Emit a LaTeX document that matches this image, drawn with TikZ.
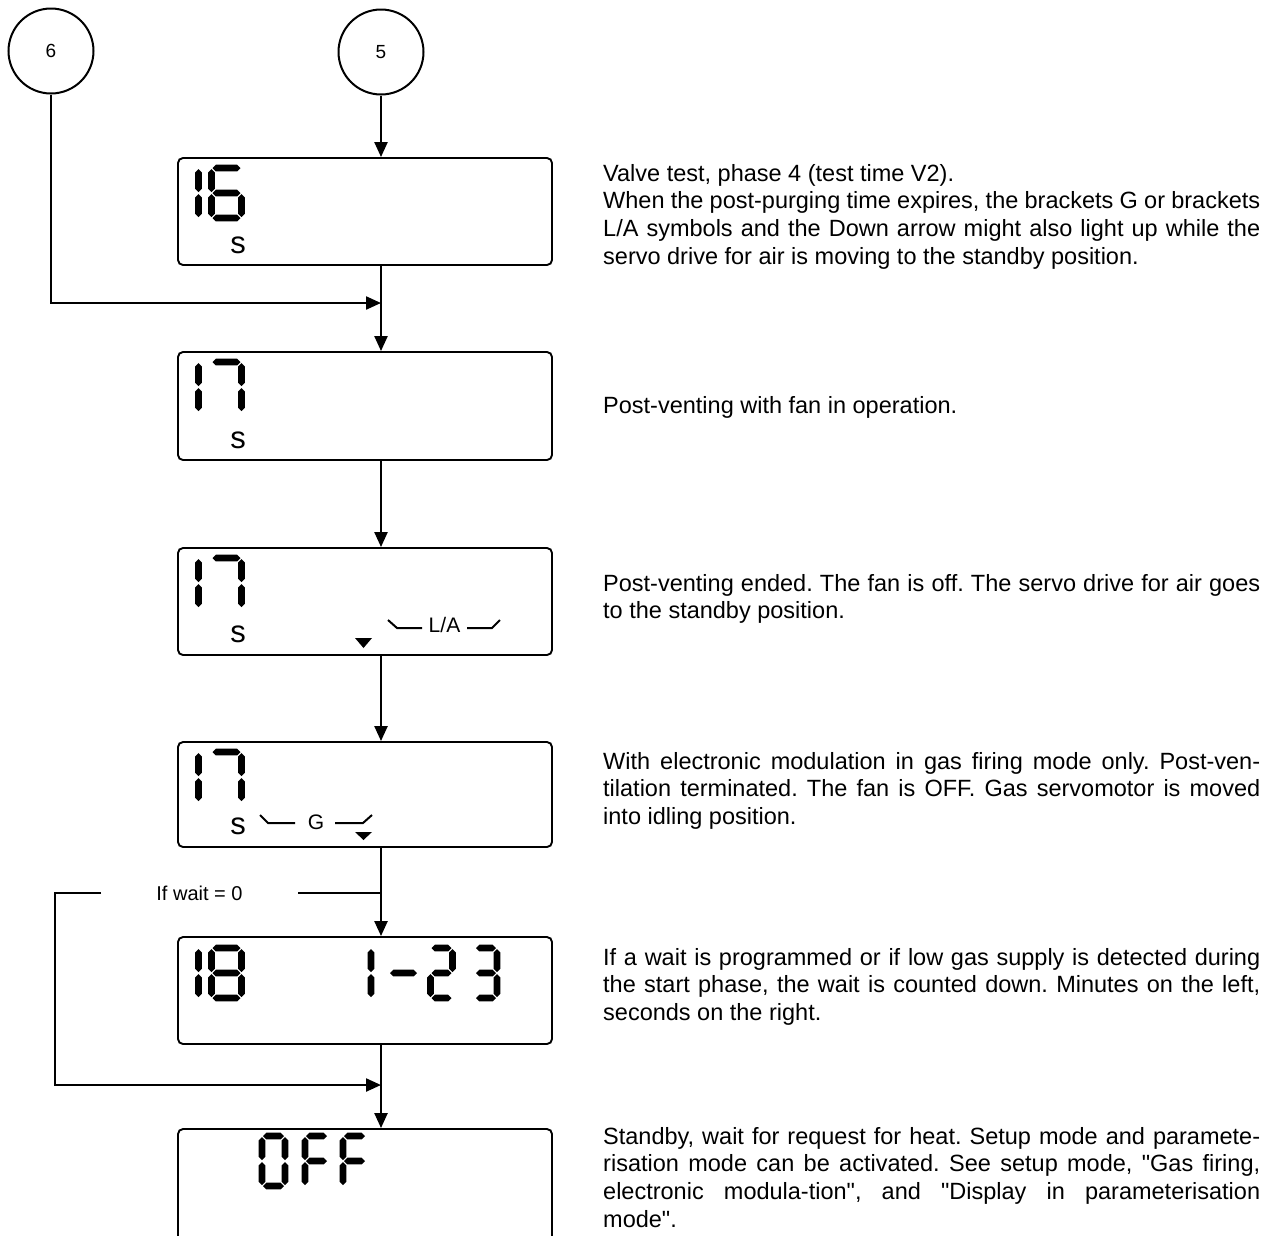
\documentclass[tikz,border=0pt]{standalone}
\usepackage{fontspec}
\setmainfont{Liberation Sans}[Ligatures=TeXOff]
\usetikzlibrary{arrows.meta,calc}
\frenchspacing
\newcommand\hsg[3]{\fill (#1,#3) -- (#1+3.4,#3-3.4) -- (#2-3.4,#3-3.4) -- (#2,#3) -- (#2-3.4,#3+3.4) -- (#1+3.4,#3+3.4) -- cycle;}
\newcommand\vsg[3]{\fill (#1,#2) -- (#1+3.4,#2+3.4) -- (#1+3.4,#3-3.4) -- (#1,#3) -- (#1-3.4,#3-3.4) -- (#1-3.4,#2+3.4) -- cycle;}
\def\dgh{50}
\newcommand\sgA{\hsg{1}{\dgw-1}{0}}
\newcommand\sgB{\vsg{\dgw}{1}{\dgh/2-1}}
\newcommand\sgC{\vsg{\dgw}{\dgh/2+1}{\dgh-1}}
\newcommand\sgD{\hsg{1}{\dgw-1}{\dgh}}
\newcommand\sgE{\vsg{0}{\dgh/2+1}{\dgh-1}}
\newcommand\sgF{\vsg{0}{1}{\dgh/2-1}}
\newcommand\sgG{\hsg{1}{\dgw-1}{\dgh/2}}
\newcommand\dig[4]{\begin{scope}[shift={(#1,#2)}]\def\dgw{#3}#4\end{scope}}
\newcommand\dgone[2]{\begin{scope}[shift={(#1,#2)}]\vsg{0}{1}{\dgh/2-1}\vsg{0}{\dgh/2+1}{\dgh-1}\end{scope}}
\begin{document}
\begin{tikzpicture}[x=1pt,y=-1pt,
  lcd/.style={draw, line width=1.9pt, rounded corners=5pt, minimum width=374pt, inner sep=0pt},
  conn/.style={line width=2.3pt},
  arr/.style={line width=2.3pt, -{Triangle[length=15pt,width=13pt]}},
  bubble/.style={circle, draw, line width=2pt, minimum size=85pt, inner sep=0pt, font=\fontsize{19}{20}\selectfont},
  desc/.style={anchor=base west, text width=657pt, align=justify, inner sep=0pt,
    font=\fontsize{23.5}{27.7}\selectfont},
  sym/.style={inner sep=0pt, font=\fontsize{21}{22}\selectfont},
  ess/.style={inner sep=0pt, font=\fontsize{31}{31}\selectfont},
  brk/.style={line width=2pt}]
\clip (0,0) rectangle (1276,1235);
\fill[white] (0,0) rectangle (1276,1235);

% connector circles
\node[bubble] (c6) at (51,51) {6};
\node[bubble] (c5) at (381,52) {5};

% display boxes
\node[lcd, minimum height=107pt] (b1) at (365,211.5) {};
\node[lcd, minimum height=108pt] (b2) at (365,406) {};
\node[lcd, minimum height=107pt] (b3) at (365,601.5) {};
\node[lcd, minimum height=105pt] (b4) at (365,794.5) {};
\node[lcd, minimum height=107pt] (b5) at (365,990.5) {};
\node[lcd, minimum height=130pt] (b6) at (365,1194) {};

% junction coordinates
\coordinate (j1) at (381,303);
\coordinate (j2) at (381,893);
\coordinate (j3) at (381,1085);

% connectors
\draw[arr] (c5.south) -- (c5.south |- b1.north);
\draw[arr] (b1.south -| c5) -- (b2.north -| c5);
\draw[arr] (c6.south) |- (j1);
\draw[arr] (b2.south -| c5) -- (b3.north -| c5);
\draw[arr] (b3.south -| c5) -- (b4.north -| c5);
\draw[arr] (b4.south -| c5) -- (b5.north -| c5);
\draw[arr] (b5.south -| c5) -- (b6.north -| c5);
\node[inner ysep=0pt, inner xsep=55pt, font=\fontsize{20}{22}\selectfont] (wait) at (199.5,893) {If wait = 0};
\draw[conn] (j2) -- (wait.east);
\draw[arr] (wait.west) -- ++(-46,0) |- (j3);

% box 1: 16 s
\dgone{198.5}{168}
\dig{211.5}{168}{30}{\sgA\sgC\sgD\sgE\sgF\sgG}
\node[ess] (s1) at (238,245) {s};

% box 2: 17 s
\dgone{198.5}{362}
\dig{211.5}{362}{30}{\sgA\sgB\sgC}
\node[ess] (s2) at (238,440) {s};

% box 3: 17 s, down arrow, L/A
\dgone{198.5}{558}
\dig{211.5}{558}{30}{\sgA\sgB\sgC}
\node[ess] (s3) at (238,634) {s};
\fill (355,638) -- (372,638) -- (363.5,648) -- cycle;
\node[sym] (la) at (444.5,625) {L/A};
\draw[brk] (388,620) -- (397,628) -- (422,628);
\draw[brk] (467,628) -- (492,628) -- (500,620);

% box 4: 17 s, G brackets, down arrow
\dgone{198.5}{752}
\dig{211.5}{752}{30}{\sgA\sgB\sgC}
\node[ess] (s4) at (238,826) {s};
\node[sym] (g) at (316,822.5) {G};
\draw[brk] (260,815) -- (268,823) -- (295,823);
\draw[brk] (335,823) -- (363,823) -- (372,815);
\fill (355,832) -- (372,832) -- (363.5,840) -- cycle;

% box 5: 18   1-23
\dgone{198.5}{948}
\dig{211.5}{948}{30}{\sgA\sgB\sgC\sgD\sgE\sgF\sgG}
\dgone{371}{948}
\hsg{390}{417}{973}
\dig{430.5}{948}{22}{\sgA\sgB\sgG\sgE\sgD}
\dig{475}{948}{22}{\sgA\sgB\sgG\sgC\sgD}

% box 6: OFF
\dig{262}{1136}{23}{\sgA\sgB\sgC\sgD\sgE\sgF}
\dig{305}{1136}{23}{\sgA\sgE\sgF\sgG}
\dig{343}{1136}{23}{\sgA\sgE\sgF\sgG}

% descriptions
\node[desc] (t1) at (603,181) {\tolerance=10000 Valve test, phase 4 (test time V2).\par
When the post-purging time expires, the brackets G or brackets\linebreak
L/A symbols and the Down arrow might also light up while the\linebreak
servo drive for air is moving to the standby position.};
\node[desc] (t2) at (603,413) {Post-venting with fan in operation.};
\node[desc] (t3) at (603,591) {\tolerance=10000 Post-venting ended. The fan is off. The servo drive for air goes\linebreak
to the standby position.};
\node[desc] (t4) at (603,769) {\tolerance=10000 With electronic modulation in gas firing mode only. Post-ven-\linebreak
tilation terminated. The fan is OFF. Gas servomotor is moved\linebreak
into idling position.};
\node[desc] (t5) at (603,965) {\tolerance=10000 If a wait is programmed or if low gas supply is detected during\linebreak
the start phase, the wait is counted down. Minutes on the left,\linebreak
seconds on the right.};
\node[desc] (t6) at (603,1144) {\tolerance=10000 Standby, wait for request for heat. Setup mode and paramete-\linebreak
risation mode can be activated. See setup mode, "Gas firing,\linebreak
electronic modula-tion", and "Display in parameterisation\linebreak
mode".};
\end{tikzpicture}
\end{document}
